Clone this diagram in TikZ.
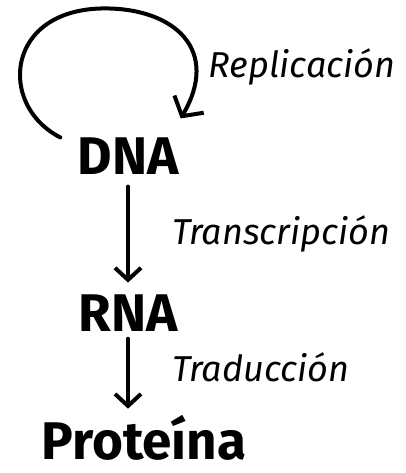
\documentclass[tikz,border=0pt]{standalone}
\usepackage{fontspec}
\setmainfont{Fira Sans}
\usetikzlibrary{positioning,arrows.meta}
\tikzset{molecula/.style={font=\bfseries\fontsize{53}{56}\selectfont, inner sep=6pt},
% molecula is used for the three big words DNA, RNA and Proteina
proceso/.style={font=\itshape\fontsize{36}{40}\selectfont, inner sep=0pt, anchor=base west},
% proceso is the italic name written next to each arrow
line/.style={line width=4pt, line cap=round, -{Straight Barb[length=12pt,width=26pt]}},
loopline/.style={line width=4pt, line cap=round, -{Straight Barb[length=14pt,width=34pt]}}
}
\begin{document}
\begin{tikzpicture}
    \useasboundingbox (0,0) rectangle (406pt,-473pt);
    \node[molecula] (dna) at (128pt,-156pt) {DNA};
    \node[molecula,below=108pt of dna] (rna) {RNA};
    \node[molecula,below=74pt of rna,xshift=16pt,inner sep=3pt] (prot) {Proteína};
    \coordinate (cima) at ([xshift=-23pt,yshift=123pt]dna.north);
    \node[proceso] (repl) at ([xshift=24pt,yshift=54pt]dna.north east) {Replicación};
    \draw[loopline] ([xshift=-11pt,yshift=-6pt]dna.north west) .. controls +(-63pt,32pt) and +(-100pt,0pt) .. (cima)
        .. controls +(70pt,0pt) and +(40pt,68pt) .. ([xshift=-4pt,yshift=13pt]dna.north east);
    \draw[line, shorten <=6pt, shorten >=6pt] (dna) -- (rna) node[proceso,midway,xshift=42pt,yshift=-10pt] (trans) {Transcripción};
    \draw[line, shorten <=1pt, shorten >=3pt] (rna.south) -- (rna.south |- prot.north) node[proceso,midway,xshift=42pt,yshift=-7pt] (trad) {Traducción};
  \end{tikzpicture}
\end{document}
